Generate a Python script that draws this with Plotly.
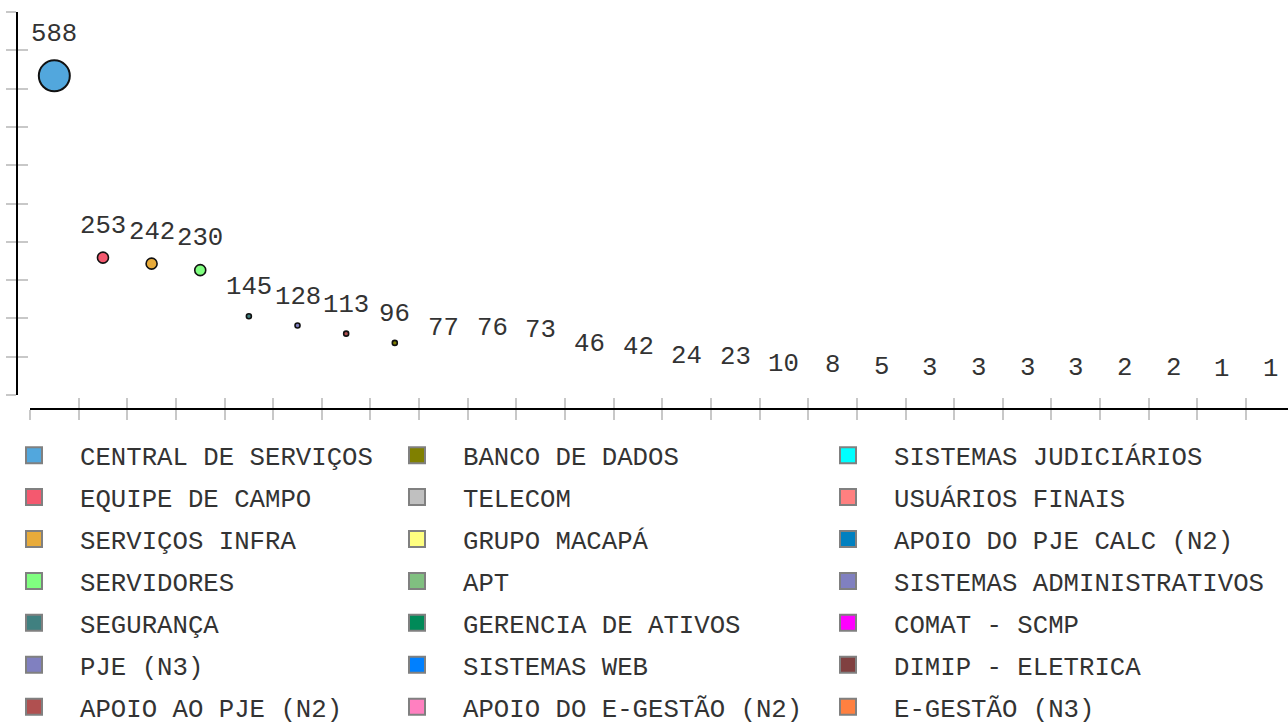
import plotly.graph_objects as go

# ---------------- data ----------------
categories = [
    "CENTRAL DE SERVIÇOS", "EQUIPE DE CAMPO", "SERVIÇOS INFRA", "SERVIDORES",
    "SEGURANÇA", "PJE (N3)", "APOIO AO PJE (N2)",
    "BANCO DE DADOS", "TELECOM", "GRUPO MACAPÁ", "APT",
    "GERENCIA DE ATIVOS", "SISTEMAS WEB", "APOIO DO E-GESTÃO (N2)",
    "SISTEMAS JUDICIÁRIOS", "USUÁRIOS FINAIS", "APOIO DO PJE CALC (N2)",
    "SISTEMAS ADMINISTRATIVOS", "COMAT - SCMP", "DIMIP - ELETRICA", "E-GESTÃO (N3)",
]
# 26 values; the last five categories' names are outside the visible picture
values = [588, 253, 242, 230, 145, 128, 113, 96, 77, 76, 73, 46, 42,
          24, 23, 10, 8, 5, 3, 3, 3, 3, 2, 2, 1, 1]
colors = [
    "#52a7dd", "#f4596f", "#e8ab3a", "#80ff80", "#408080", "#8080c0", "#b05050",
    "#808000", "#c0c0c0", "#ffff80", "#80c080", "#008a58", "#0080ff", "#ff80c0",
    "#00ffff", "#ff8080", "#0080c0", "#8080c0", "#ff00ff", "#804040", "#ff8040",
    "#c08040", "#408000", "#8000ff", "#c0c000", "#404080",
]

# ---------------- styling / layout constants ----------------
W, H = 1288, 725
FONT = "Liberation Mono, Courier New, monospace"
FS = 25.7
TXT = "#333333"
TICK_C = "#c8c8c8"
BAND_PX = 48.64          # pixel width of one category band
X_LEFT_PX = 30           # left edge of x axis
X_LINE_PX = 409          # y pixel of x axis line
Y_LINE_PX = 17           # x pixel of y axis line
Y_TOP_PX, Y_ZERO_PX = 12, 395
Y_MAX = max(values) * 1.2
N = len(values)


def diameter(v):
    if v >= 500:
        return 31
    if v >= 200:
        return 11
    if v >= 90:
        return 5
    return 0


def border(v):
    d = diameter(v)
    return 2 if d > 20 else (1.6 if d > 0 else 0)


xs = list(range(N))
sizes = [diameter(v) for v in values]
lws = [border(v) for v in values]

fig = go.Figure()
fig.add_trace(go.Scatter(
    x=xs, y=values, mode="markers",
    marker=dict(size=sizes, color=colors[:N], line=dict(color="#111111", width=lws),
                opacity=1),
    showlegend=False, hoverinfo="skip",
))

# helper traces so the overlay axes (crossing tick halves) exist
fig.add_trace(go.Scatter(x=[None], y=[None], xaxis="x2", yaxis="y",
                         showlegend=False, hoverinfo="skip"))
fig.add_trace(go.Scatter(x=[None], y=[None], xaxis="x", yaxis="y2",
                         showlegend=False, hoverinfo="skip"))

# legend entries (square swatches), three columns of seven
legend_ids = ["legend", "legend2", "legend3"]
for i, name in enumerate(categories):
    fig.add_trace(go.Scatter(
        x=[None], y=[None], mode="markers", name=name,
        marker=dict(symbol="square", size=16, color=colors[i],
                    line=dict(color="#808080", width=2)),
        legend=legend_ids[i // 7], legendgroup=name, hoverinfo="skip",
    ))

# value labels
annotations = []
for x, v in zip(xs, values):
    r = (diameter(v) + border(v)) / 2
    annotations.append(dict(
        x=x, y=v, xref="x", yref="y", text=str(v), showarrow=False,
        xanchor="center", yanchor="middle", yshift=r + 25.2,
        font=dict(family=FONT, size=FS, color=TXT),
    ))

x_range = [-0.5, -0.5 + (W - X_LEFT_PX) / BAND_PX]
x_ticks = [i - 0.5 for i in range(N + 1)]
y_ticks = [Y_MAX * k / 10 for k in range(11)]
x_dom = [X_LEFT_PX / W, 1]
y_dom = [(H - Y_ZERO_PX) / H, (H - Y_TOP_PX) / H]
x_pos = (H - X_LINE_PX) / H
y_pos = Y_LINE_PX / W

xcommon = dict(domain=x_dom, range=x_range, anchor="free", position=x_pos,
               tickmode="array", tickvals=x_ticks, showticklabels=False,
               showgrid=False, zeroline=False, showline=True, linecolor="#000000",
               linewidth=2, ticklen=10, tickwidth=2, tickcolor=TICK_C, fixedrange=True)
ycommon = dict(domain=y_dom, range=[0, Y_MAX], anchor="free", position=y_pos,
               tickmode="array", tickvals=y_ticks, showticklabels=False,
               showgrid=False, zeroline=False, showline=True, linecolor="#000000",
               linewidth=2, ticklen=10, tickwidth=2, tickcolor=TICK_C, fixedrange=True)


def legend_at(cx_px, top_px):
    return dict(
        x=(cx_px - 46) / W, y=(H - top_px) / H, xanchor="left", yanchor="top",
        orientation="v", itemwidth=82, tracegroupgap=5.5, traceorder="grouped",
        font=dict(family=FONT, size=FS, color=TXT), bgcolor="rgba(0,0,0,0)",
        borderwidth=0,
    )


LEG_TOP = 432.0
fig.update_layout(
    width=W, height=H,
    margin=dict(l=0, r=0, t=0, b=0, autoexpand=False),
    paper_bgcolor="white", plot_bgcolor="white",
    xaxis=dict(**xcommon, ticks="outside"),
    xaxis2=dict(**xcommon, ticks="inside", overlaying="x", matches="x"),
    yaxis=dict(**ycommon, ticks="outside"),
    yaxis2=dict(**ycommon, ticks="inside", overlaying="y", matches="y"),
    legend=legend_at(34, LEG_TOP),
    legend2=legend_at(417, LEG_TOP),
    legend3=legend_at(848, LEG_TOP),
    annotations=annotations,
    font=dict(family=FONT, size=FS, color=TXT),
)

fig.write_html(
    "out.html",
    config={"displayModeBar": False},
    post_script="document.body.style.margin='0';document.body.style.overflow='hidden';",
)
